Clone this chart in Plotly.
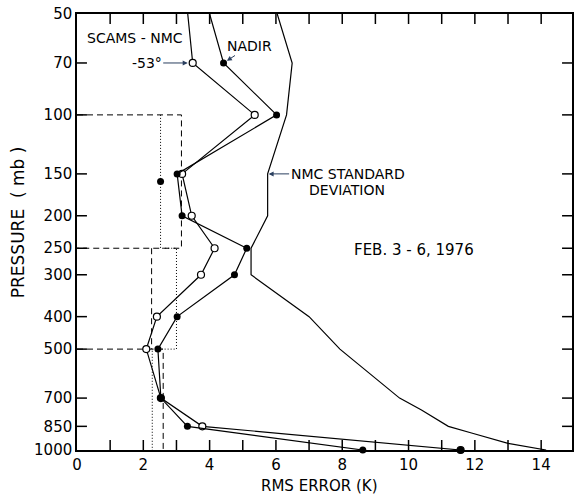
import numpy as np
import plotly.graph_objects as go

# ---------------- data ----------------
pressure = [50, 70, 100, 150, 200, 250, 300, 400, 500, 700, 850, 1000]
nadir_rms = [4.00, 4.42, 6.02, 3.02, 3.17, 5.12, 4.75, 3.02, 2.44, 2.53, 3.33, 8.62]
minus53_rms = [3.34, 3.49, 5.36, 3.17, 3.46, 4.15, 3.74, 2.41, 2.09, 2.53, 3.78, 11.57]
minus53_fill = ["white"] * 11 + ["black"]

nmc_pressure = [50, 70, 100, 150, 200, 250, 300, 400, 500, 600, 700, 760, 850, 890, 955, 1000]
nmc_std = [6.04, 6.49, 6.32, 5.75, 5.75, 5.25, 5.25, 7.0, 7.93, 8.9, 9.73, 10.39, 11.2, 11.9, 13.0, 14.15]

# layer-mean profiles (step lines)
dashed_x = [0, 3.15, 3.15, 0, None, 2.25, 2.25, None, 0, 2.6, 2.6]
dashed_p = [100, 100, 250, 250, None, 250, 500, None, 500, 500, 1000]
dotted_x = [2.52, 2.52, 3.0, 3.0, 2.27, 2.27]
dotted_p = [100, 250, 250, 500, 500, 1000]
single_dot_x = [2.52]
single_dot_p = [158]

x_tickvals = list(range(0, 15))
x_ticktext = [str(v) if v % 2 == 0 else "" for v in x_tickvals]
y_tickvals = [50, 70, 100, 150, 200, 250, 300, 400, 500, 700, 850, 1000]
y_ticktext = [str(v) for v in y_tickvals]

FONT = "DejaVu Sans"
LW = 1.2
TICKLEN = 10
W, H = 574, 500
MARGIN = dict(l=77, r=0, t=14, b=50)
X_RANGE = [0, 14.93]
P_MIN, P_MAX = 50, 1000

fig = go.Figure()

# inward tick marks on all four sides, built from the tick value lists
plot_w = W - MARGIN["l"] - MARGIN["r"]
plot_h = H - MARGIN["t"] - MARGIN["b"]
dx = TICKLEN * (X_RANGE[1] - X_RANGE[0]) / plot_w
dlog = TICKLEN * (np.log10(P_MAX) - np.log10(P_MIN)) / plot_h
for v in x_tickvals[1:]:
    fig.add_trace(go.Scatter(x=[v, v], y=[P_MAX, P_MAX / 10 ** dlog], mode="lines",
                             line=dict(color="black", width=1.5), hoverinfo="skip",
                             showlegend=False))
    fig.add_trace(go.Scatter(x=[v, v], y=[P_MIN, P_MIN * 10 ** dlog], mode="lines",
                             line=dict(color="black", width=1.5), hoverinfo="skip",
                             showlegend=False))
for p in y_tickvals[1:-1]:
    fig.add_trace(go.Scatter(x=[X_RANGE[0], X_RANGE[0] + dx], y=[p, p], mode="lines",
                             line=dict(color="black", width=1.5), hoverinfo="skip",
                             showlegend=False))
    fig.add_trace(go.Scatter(x=[X_RANGE[1], X_RANGE[1] - dx], y=[p, p], mode="lines",
                             line=dict(color="black", width=1.5), hoverinfo="skip",
                             showlegend=False))

fig.add_trace(go.Scatter(x=nmc_std, y=nmc_pressure, mode="lines",
                         line=dict(color="black", width=LW), cliponaxis=False,
                         showlegend=False))
fig.add_trace(go.Scatter(x=dashed_x, y=dashed_p, mode="lines", connectgaps=False,
                         line=dict(color="black", width=1, dash="6px,4px"),
                         showlegend=False))
fig.add_trace(go.Scatter(x=dotted_x, y=dotted_p, mode="lines",
                         line=dict(color="black", width=1, dash="1px,2px"),
                         showlegend=False))
fig.add_trace(go.Scatter(x=single_dot_x, y=single_dot_p, mode="markers",
                         marker=dict(color="black", size=7), showlegend=False))
fig.add_trace(go.Scatter(x=minus53_rms, y=pressure, mode="lines+markers",
                         line=dict(color="black", width=LW),
                         marker=dict(symbol="circle", size=7, color=minus53_fill,
                                     line=dict(color="black", width=1.2)),
                         cliponaxis=False, showlegend=False))
fig.add_trace(go.Scatter(x=nadir_rms, y=pressure, mode="lines+markers",
                         line=dict(color="black", width=LW),
                         marker=dict(symbol="circle", size=7, color="black"),
                         cliponaxis=False, showlegend=False))

axis_common = dict(showline=True, linecolor="black", linewidth=1.5, mirror=True,
                   ticks="inside", ticklen=9, tickcolor="rgba(0,0,0,0)",
                   showgrid=False, zeroline=False,
                   tickfont=dict(family=FONT, size=15, color="black"))

fig.update_xaxes(range=X_RANGE, tickmode="array", tickvals=x_tickvals,
                 ticktext=x_ticktext, **axis_common)
fig.update_yaxes(type="log", range=[np.log10(P_MAX), np.log10(P_MIN)], tickmode="array",
                 tickvals=y_tickvals, ticktext=y_ticktext, **axis_common)

ann_font = dict(family=FONT, size=14, color="black")
C = dict(xanchor="center", yanchor="middle")
annotations = [
    dict(text="SCAMS - NMC", xref="paper", yref="paper", x=(135.5 - 77) / 497,
         y=(450 - 38) / 436, showarrow=False, font=ann_font, **C),
    dict(text="-53°", xref="x", yref="y", x=minus53_rms[1], y=np.log10(pressure[1]),
         ax=-46, ay=0, showarrow=True, arrowhead=2, arrowsize=1, arrowwidth=1,
         standoff=5, font=ann_font),
    dict(text="NADIR", xref="x", yref="y", x=nadir_rms[1], y=np.log10(pressure[1]),
         ax=26, ay=-17, showarrow=True, arrowhead=2, arrowsize=1, arrowwidth=1,
         standoff=4, font=ann_font),
    dict(text="NMC STANDARD", xref="x", yref="y", x=nmc_std[3], y=np.log10(nmc_pressure[3]),
         ax=80, ay=0, showarrow=True, arrowhead=2, arrowsize=1, arrowwidth=1,
         standoff=1, font=ann_font),
    dict(text="DEVIATION", xref="paper", yref="paper", x=(348 - 77) / 497,
         y=(450 - 190) / 436, showarrow=False, font=ann_font, **C),
    dict(text="FEB. 3 - 6, 1976", xref="paper", yref="paper", x=(415 - 77) / 497,
         y=(450 - 250) / 436, showarrow=False,
         font=dict(family=FONT, size=15, color="black"), **C),
    dict(text="RMS ERROR (K)", xref="paper", yref="paper", x=(320 - 77) / 497,
         y=(450 - 486) / 436, showarrow=False,
         font=dict(family=FONT, size=15, color="black"), **C),
    dict(text="PRESSURE  ( mb )", xref="paper", yref="paper", x=(18 - 77) / 497,
         y=(450 - 222) / 436, showarrow=False, textangle=-90,
         font=dict(family=FONT, size=17, color="black"), **C),
]

fig.update_layout(width=W, height=H, margin=MARGIN,
                  plot_bgcolor="white", paper_bgcolor="white",
                  annotations=annotations, showlegend=False)

fig.write_html("out.html")
